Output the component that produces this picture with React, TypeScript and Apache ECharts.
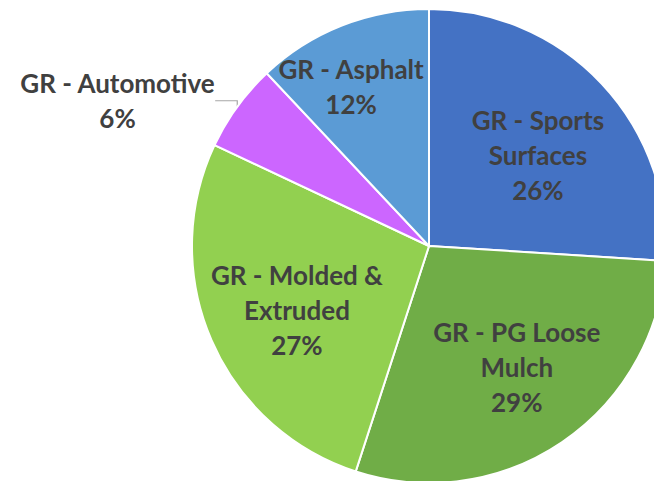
import React, { useEffect, useRef } from "react";
import * as echarts from "echarts";

const categories = [
  "GR - Sports\nSurfaces",
  "GR - PG Loose\nMulch",
  "GR - Molded &\nExtruded",
  "GR - Automotive",
  "GR - Asphalt",
];
const values = [26, 29, 27, 6, 12];
const colors = ["#4472C4", "#70AD47", "#92D050", "#CC66FF", "#5B9BD5"];

// label placement: [fraction of radius, angle in degrees clockwise from 12 o'clock]
const labelPlacement: [number, number][] = [
  [0.6, 50],
  [0.63, 144],
  [0.62, 244],
  [1.45, 295],
  [0.75, 334],
];

const CX = 429;
const CY = 246;
const R = 237;

export default function App() {
  const ref = useRef<HTMLDivElement>(null);
  useEffect(() => {
    if (!ref.current) return;
    const chart = echarts.init(ref.current, undefined, { renderer: "svg" });
    chart.setOption({
      animation: false,
      backgroundColor: "#ffffff",
      series: [
        {
          type: "pie",
          center: [CX, CY],
          radius: [0, R],
          startAngle: 90,
          clockwise: true,
          itemStyle: { borderColor: "#ffffff", borderWidth: 2 },
          label: {
            show: true,
            position: "inside",
            color: "#404040",
            fontFamily: "Lato",
            fontWeight: "bold",
            fontSize: 26,
            lineHeight: 35,
            align: "center",
            overflow: "none",
            formatter: (p: any) => `${p.name}\n${Math.round(p.percent)}%`,
          },
          labelLine: { show: false },
          labelLayout: (p: any) => {
            const [f, a] = labelPlacement[p.dataIndex];
            const rad = (a * Math.PI) / 180;
            return {
              x: CX + f * R * Math.sin(rad),
              y: CY - f * R * Math.cos(rad),
              align: "center",
              verticalAlign: "middle",
            };
          },
          data: categories.map((name, i) => {
            const item: any = {
              name,
              value: values[i],
              itemStyle: { color: colors[i] },
            };
            if (i === 3) {
              item.label = {
                position: "outside",
                overflow: "none",
                edgeDistance: 0,
                bleedMargin: 0,
              };
              item.labelLine = {
                show: true,
                length: 0,
                length2: 28,
                smooth: false,
                lineStyle: { color: "#A6A6A6", width: 1.2 },
              };
            }
            return item;
          }),
        },
      ],
    });
    return () => chart.dispose();
  }, []);
  return (
    <div
      ref={ref}
      style={{ position: "fixed", left: 0, top: 0, width: 654, height: 481 }}
    />
  );
}
